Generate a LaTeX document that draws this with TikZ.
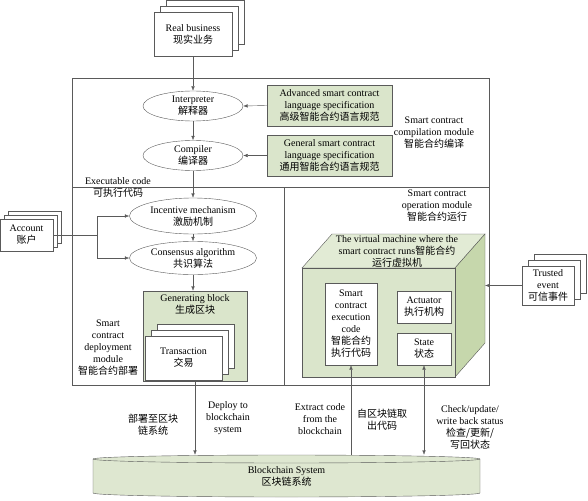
\documentclass[tikz,border=0pt]{standalone}
\usepackage{fontspec}
\setmainfont{Liberation Serif}
\newfontfamily\cjk{Noto Sans CJK SC}
\newcommand{\zh}[1]{{\cjk #1}}
\usepackage{xcolor}
\usepackage{tikz}
\usetikzlibrary{shapes.geometric,shadows,positioning,arrows.meta}

\definecolor{linegray}{RGB}{90,90,90}
\definecolor{specgreen}{RGB}{218,229,203}
\definecolor{cubetop}{RGB}{226,235,213}
\definecolor{cubeside}{RGB}{198,215,172}
\definecolor{chaingreen}{RGB}{222,231,208}

\begin{document}
\begin{tikzpicture}[x=1pt, y=-1pt, >={Latex[length=4.5pt,width=3.5pt]},
  box/.style={rectangle, draw=linegray, fill=white, align=center, inner sep=1pt},
  stackbig/.style={copy shadow={shadow xshift=12pt, shadow yshift=12pt, draw=linegray, fill=white},
                   copy shadow={shadow xshift=6pt, shadow yshift=6pt, draw=linegray, fill=white}},
  stacksmall/.style={copy shadow={shadow xshift=8pt, shadow yshift=8pt, draw=linegray, fill=white},
                     copy shadow={shadow xshift=4pt, shadow yshift=4pt, draw=linegray, fill=white}},
  oval/.style={ellipse, draw=linegray, fill=white, align=center, inner sep=0pt},
  spec/.style={box, fill=specgreen, minimum width=125pt, minimum height=41pt},
  note/.style={align=center, inner sep=0pt},
  conn/.style={draw=linegray}]
\useasboundingbox (0,0) rectangle (588,500);

% frames
\draw[conn] (72,78) rectangle (489,385);
\draw[conn] (72,187) -- (489,187) (284,187) -- (284,385);

% compilation module
\node (real) [box, stackbig, minimum width=78pt, minimum height=44pt] at (193,34) {Real business\\\zh{现实业务}};
\node (interp) [oval, minimum width=100pt, minimum height=30pt] at (193,106) {Interpreter\\\zh{解释器}};
\node (compiler) [oval, minimum width=100pt, minimum height=30pt] at (193,155.5) {Compiler\\\zh{编译器}};
\node (advspec) [spec] at (329.5,105.5) {Advanced smart contract\\language specification\\\zh{高级智能合约语言规范}};
\node (genspec) [spec] at (329.5,155.5) {General smart contract\\language specification\\\zh{通用智能合约语言规范}};
\node (compmod) [note] at (434,133) {Smart contract\\compilation module\\\zh{智能合约编译}};
\node (execcode) [note] at (118,187) {Executable code\\\zh{可执行代码}};

% deployment module
\node (account) [box, stacksmall, minimum width=53pt, minimum height=32pt] at (26.5,235) {Account\\\zh{账户}};
\node (incentive) [oval, minimum width=127pt, minimum height=36pt] at (193,216) {Incentive mechanism\\\zh{激励机制}};
\node (consensus) [oval, minimum width=127pt, minimum height=33pt] at (193,258) {Consensus algorithm\\\zh{共识算法}};
\node (genblock) [box, fill=specgreen, minimum width=104pt, minimum height=90pt] at (195,336) {};
\node (gentitle) [note, below=4pt of genblock.north] {Generating block\\\zh{生成区块}};
\node (trans) [box, stackbig, minimum width=77pt, minimum height=44pt] at (183.5,358) {Transaction\\\zh{交易}};
\node (deploymod) [note] at (108,348) {Smart\\contract\\deployment\\module\\\zh{智能合约部署}};

% operation module
\node (opmod) [note] at (437,206) {Smart contract\\operation module\\\zh{智能合约运行}};
\filldraw[draw=linegray, fill=cubetop] (302,268) -- (332,234) -- (485,234) -- (455,268) -- cycle;
\filldraw[draw=linegray, fill=cubeside] (455,268) -- (485,234) -- (485,343) -- (455,377) -- cycle;
\filldraw[draw=linegray, fill=specgreen] (302,268) rectangle (455,377);
\coordinate (vmside) at (485,285.5);
\node (vm) [note] at (397,251) {The virtual machine where the\\smart contract runs\zh{智能合约}\\\zh{运行虚拟机}};
\node (exec) [box, minimum width=52pt, minimum height=82pt] at (351,324) {Smart\\contract\\execution\\code\\\zh{智能合约}\\\zh{执行代码}};
\node (actuator) [box, minimum width=54pt, minimum height=32pt] at (424,307) {Actuator\\\zh{执行机构}};
\node (state) [box, minimum width=54pt, minimum height=32pt] at (424,349) {State\\\zh{状态}};
\node (trusted) [box, stackbig, minimum width=52pt, minimum height=39pt] at (548,285.5) {Trusted\\event\\\zh{可信事件}};

% blockchain
\filldraw[draw=linegray, fill=chaingreen] (93,459) -- (93,493)
  arc[start angle=180, end angle=360, x radius=193.5pt, y radius=4pt] -- (480,459)
  arc[start angle=0, end angle=180, x radius=193.5pt, y radius=4pt] -- cycle;
\draw[conn] (93,459) arc[start angle=180, end angle=360, x radius=193.5pt, y radius=4pt];
\node (chain) [note, minimum width=387pt, minimum height=42pt] at (286.5,476) {Blockchain System\\\zh{区块链系统}};

\node (deployzh) [note] at (153,425) {\zh{部署至区块}\\\zh{链系统}};
\node (deployen) [note] at (228,418) {Deploy to\\blockchain\\system};
\node (extracten) [note] at (320,419) {Extract code\\from the\\blockchain};
\node (extractzh) [note] at (382,420) {\zh{自区块链取}\\\zh{出代码}};
\node (check) [note] at (470,427) {Check/update/\\write back status\\\zh{检查/更新/}\\\zh{写回状态}};

% connectors
\draw[conn, ->] (real.south) -- (interp.north);
\draw[conn, ->] (interp) -- (compiler);
\draw[conn, ->] (compiler) -- (incentive);
\draw[conn, ->] (incentive) -- (consensus);
\draw[conn, ->] (consensus.south) -- (consensus.south |- genblock.north);
\draw[conn, ->] (advspec.west) -- (interp.east);
\draw[conn, ->] (genspec.west) -- (compiler.east);
\draw[conn] (account.east) -- ++(44,0) coordinate (fork);
\draw[conn, ->] (fork) |- (incentive.west);
\draw[conn, ->] (fork) |- (consensus.west);
\draw[conn, ->] (genblock.south) -- (genblock.south |- chain.north);
\draw[conn, ->] (exec.south |- chain.north) -- (exec.south);
\draw[conn, <->] (state.south) -- (state.south |- chain.north);
\draw[conn, ->] (trusted.west) -- (vmside);
\end{tikzpicture}
\end{document}
